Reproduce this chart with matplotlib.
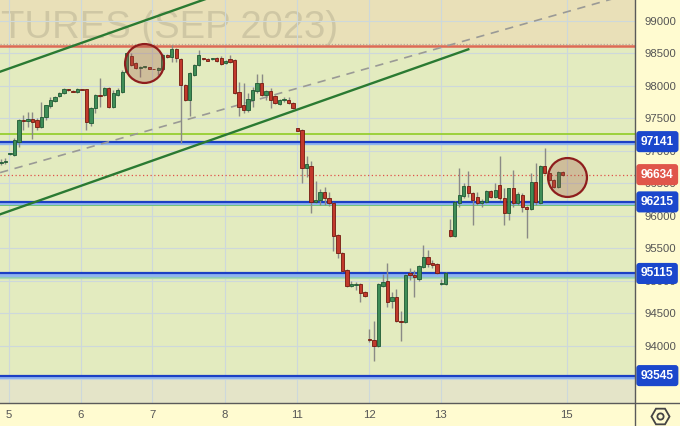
import matplotlib
matplotlib.use('Agg')
import matplotlib.pyplot as plt
from matplotlib.lines import Line2D
import numpy as np

# ---------------- data ----------------
opens = [96820, 96835, 96945, 96935, 97135, 97480, 97460, 97490, 97475, 97365,
         97520, 97690, 97765, 97840, 97890, 97945, 97925, 97905, 97950, 97950,
         97430, 97660, 97860, 97860, 97965, 97675, 97860, 97905, 98210, 98455,
         98350, 98280, 98285, 98290, 98265, 98240, 98260, 98475, 98440, 98565,
         98410, 98010, 97780, 98165, 98320, 98420, 98410, 98405, 98425, 98425,
         98350, 98410, 98395, 97905, 97705, 97625, 97780, 97920, 98040, 97860,
         97920, 97840, 97720, 97775, 97780, 97735, 97350, 97320, 96735, 96765,
         96215, 96245, 96365, 96275, 96200, 95705, 95430, 95170, 94920, 94940,
         94955, 94830, 94100, 94090, 94000, 94920, 95000, 94690, 94755, 94390,
         94370, 95120, 95090, 95030, 95215, 95370, 95275, 95260, 94955, 94955,
         95785, 95690, 96200, 96305, 96460, 96350, 96290, 96200, 96215, 96380,
         96290, 96475, 96275, 96045, 96430, 96200, 96320, 96135, 96105, 96520,
         96200, 96765, 96660, 96550, 96445, 96675]
highs = [96875, 96890, 96965, 97195, 97490, 97550, 97595, 97595, 97505, 97750,
         97705, 97825, 97840, 97905, 97965, 97950, 97935, 97965, 97950, 97950,
         97675, 97875, 98120, 97980, 97980, 97935, 97965, 98240, 98520, 98505,
         98365, 98305, 98300, 98295, 98265, 98290, 98490, 98490, 98625, 98580,
         98425, 98025, 98210, 98335, 98550, 98425, 98425, 98425, 98440, 98455,
         98395, 98475, 98410, 98060, 98040, 97890, 97980, 98180, 98180, 97935,
         97965, 97860, 97795, 97825, 97825, 97750, 97355, 97335, 96920, 96845,
         96535, 96415, 96445, 96365, 96215, 95720, 95445, 95185, 95000, 94985,
         94970, 94845, 94260, 94385, 94970, 95105, 95275, 94830, 94875, 94540,
         95105, 95200, 95170, 95245, 95550, 95475, 95320, 95275, 95030, 95135,
         95950, 96230, 96735, 96505, 96690, 96365, 96365, 96260, 96400, 96400,
         96505, 96920, 96430, 96430, 96705, 96365, 96350, 96150, 96660, 96815,
         96780, 97045, 96675, 96565, 96690, 96690]
lows = [96780, 96800, 96940, 96920, 97060, 97320, 97365, 97180, 97320, 97350,
        97475, 97660, 97750, 97825, 97875, 97920, 97905, 97890, 97935, 97320,
        97380, 97580, 97675, 97845, 97660, 97660, 97845, 97890, 98195, 98305,
        98260, 98135, 98280, 98255, 98250, 98165, 98240, 98425, 98365, 98365,
        97120, 97765, 97535, 98150, 98305, 98400, 98380, 98400, 98365, 98320,
        98335, 98350, 97875, 97535, 97580, 97595, 97675, 97890, 97840, 97780,
        97660, 97720, 97705, 97750, 97720, 97645, 97300, 96505, 96595, 96045,
        96200, 96165, 96165, 96150, 95460, 95350, 95135, 94905, 94905, 94860,
        94675, 94755, 94060, 93770, 93985, 94905, 94600, 94585, 94370, 94075,
        94355, 95015, 94755, 95000, 95200, 95215, 95200, 95105, 94940, 94940,
        95675, 95675, 96135, 96275, 96290, 95860, 96165, 96135, 96200, 96275,
        96275, 96245, 95860, 95935, 96135, 96165, 96060, 95660, 96090, 96165,
        96185, 96645, 96535, 96430, 96430, 96615]
closes = [96835, 96850, 96960, 97165, 97475, 97460, 97490, 97445, 97365, 97520,
          97705, 97780, 97825, 97890, 97950, 97930, 97910, 97950, 97935, 97445,
          97660, 97860, 97845, 97965, 97675, 97890, 97935, 98210, 98505, 98320,
          98275, 98295, 98295, 98260, 98250, 98275, 98475, 98440, 98565, 98425,
          98010, 97780, 98195, 98320, 98475, 98405, 98380, 98420, 98380, 98335,
          98380, 98365, 97890, 97675, 97625, 97795, 97935, 98040, 97860, 97920,
          97780, 97735, 97780, 97790, 97735, 97660, 97305, 96735, 96795, 96215,
          96245, 96365, 96275, 96200, 95690, 95430, 95155, 94920, 94955, 94955,
          94815, 94770, 94085, 94000, 94955, 94985, 94675, 94755, 94385, 94375,
          95090, 95090, 95060, 95230, 95370, 95260, 95245, 95120, 94970, 95120,
          95690, 96215, 96320, 96460, 96350, 96245, 96200, 96230, 96380, 96290,
          96400, 96275, 96045, 96430, 96200, 96335, 96135, 96105, 96520, 96215,
          96765, 96660, 96550, 96445, 96675, 96634]

day_ticks = [1.8, 17.8, 33.7, 49.8, 65.9, 81.9, 97.9, 125.9]
day_labels = ['5', '6', '7', '8', '11', '12', '13', '15']
price_ticks = [93500, 94000, 94500, 95000, 95500, 96000, 96500, 97000,
               97500, 98000, 98500, 99000]
price_tick_labels = ['', '94000', '94500', '95000', '95500', '96000', '96500',
                     '97000', '97500', '98000', '98500', '99000']

level_prices = [97141, 96215, 95115, 93545]
last_price = 96634
resistance_price = 98611
green_level_prices = [97254, 96163]
teal_level_prices = [95072]

upper_channel_x = [-0.2, 48.7]
upper_channel_y = [98216, 99410]
lower_channel_x = [-0.2, 104.0]
lower_channel_y = [96024, 98560]
mid_line_x = [-0.2, 142.2]
mid_line_y = [96665, 99455]
circle_x = [31.8, 125.9]
circle_y = [98350, 96597]
watermark = 'TURES (SEP 2023)'

# ---------------- figure ----------------
W, H = 680, 426
AX_RIGHT = 635
AX_BOTTOM = 403
fig = plt.figure(figsize=(W / 100, H / 100), dpi=100, facecolor='#fffbd0')
ax = fig.add_axes([0, (H - AX_BOTTOM) / H, AX_RIGHT / W, AX_BOTTOM / H])
ax.set_facecolor('#e3ebbf')
ax.set_xlim(-0.22, 141.1)
ax.set_ylim(93124, 99318)

FONT = ['Liberation Sans', 'DejaVu Sans']

# background bands
ax.axhspan(resistance_price + 15, 99500, color='#e9e0b8', zorder=0.1, lw=0)
ax.axhspan(92000, level_prices[-1] - 20, color='#e4e4c8', zorder=0.1, lw=0)

# grid
ax.set_xticks(day_ticks)
ax.set_xticklabels(day_labels)
ax.set_yticks(price_ticks)
ax.set_yticklabels(price_tick_labels)
ax.grid(True, color='#cdd8db', lw=0.8, zorder=0.2)
ax.set_axisbelow(True)
ax.yaxis.tick_right()
ax.tick_params(axis='both', length=0, colors='#555555', labelsize=8.2)
ax.tick_params(axis='y', pad=7)
ax.tick_params(axis='x', pad=5)
for lab in ax.get_xticklabels() + ax.get_yticklabels():
    lab.set_family(FONT)
for sp in ax.spines.values():
    sp.set_visible(False)

# watermark
ax.text(1 / AX_RIGHT, 1 - 10 / AX_BOTTOM, watermark, transform=ax.transAxes,
        ha='left', va='top', fontsize=27.5, color='#7d7a66', alpha=0.24,
        family=FONT, zorder=0.3)

# resistance line with dotted edge
ax.axhline(resistance_price + 35, color='#b9a99a', lw=0.9, ls=(0, (1, 1.5)), zorder=1)
ax.axhline(resistance_price, color='#de6a55', lw=1.8, zorder=1)

# level lines
for lv in green_level_prices:
    col = '#96cf31' if lv > 97000 else '#5fc45f'
    ax.axhline(lv, color=col, lw=1.3, zorder=1)
for lv in teal_level_prices:
    ax.axhline(lv - 25, color='#a9d9b3', lw=1.6, zorder=1)
    ax.axhline(lv, color='#35b08a', lw=1.0, zorder=1)
for lv in level_prices:
    ax.axhline(lv - 18, color='#8fb4ef', lw=2.4, zorder=1.1)
    ax.axhline(lv, color='#1c3fc4', lw=1.6, zorder=1.2)

# current price dotted
ax.axhline(last_price, color='#e0534a', lw=0.9, ls=(0, (1, 2)), zorder=1.3)

# channel lines
ax.plot(upper_channel_x, upper_channel_y, color='#2a7a32', lw=1.7, zorder=1.5)
ax.plot(lower_channel_x, lower_channel_y, color='#2a7a32', lw=1.7, zorder=1.5)
ax.plot(mid_line_x, mid_line_y, color='#9a9a96', lw=1.2, ls=(0, (5, 4)), zorder=1.4)

# candles
x = np.arange(len(opens))
o = np.array(opens, float)
c = np.array(closes, float)
hi = np.array(highs, float)
lo = np.array(lows, float)
up = c >= o
ax.vlines(x, lo, hi, color='#8a8a86', lw=1.0, zorder=2)
body_bottom = np.minimum(o, c)
body_h = np.maximum(np.abs(c - o), 14)
ax.bar(x[up], body_h[up], bottom=body_bottom[up], width=0.74,
       color='#3f8d57', edgecolor='#1f5a33', lw=0.6, zorder=3)
ax.bar(x[~up], body_h[~up], bottom=body_bottom[~up], width=0.74,
       color='#c2392c', edgecolor='#74190f', lw=0.6, zorder=3)

# circles
ax.plot(circle_x, circle_y, 'o', ms=28, mfc=(0.62, 0.33, 0.27, 0.30),
        mec='#8e1d1d', mew=1.6, zorder=6, clip_on=False)

# price labels on the right axis
for lv in level_prices:
    ax.annotate(f'{lv}', xy=(1, lv), xycoords=ax.get_yaxis_transform(),
                xytext=(4.2, 0), textcoords='offset points', ha='left', va='center',
                color='white', fontweight='bold', fontsize=8.6, family=FONT,
                bbox=dict(boxstyle='round,pad=0.38,rounding_size=0.25', fc='#1b47cc', ec='none'),
                annotation_clip=False, zorder=10)
ax.annotate(f'{last_price}', xy=(1, last_price), xycoords=ax.get_yaxis_transform(),
            xytext=(4.2, 0), textcoords='offset points', ha='left', va='center',
            color='white', fontweight='bold', fontsize=8.6, family=FONT,
            bbox=dict(boxstyle='round,pad=0.38,rounding_size=0.25', fc='#e0564a', ec='none'),
            annotation_clip=False, zorder=10)

# frame separators
fig.add_artist(Line2D([0, 1], [(H - AX_BOTTOM) / H] * 2, transform=fig.transFigure,
                      color='#5a5a5a', lw=1.0))
fig.add_artist(Line2D([AX_RIGHT / W] * 2, [0, 1], transform=fig.transFigure,
                      color='#5a5a5a', lw=1.0))

# settings icon
ov = fig.add_axes([0, 0, 1, 1], zorder=5)
ov.set_xlim(0, W)
ov.set_ylim(H, 0)
ov.axis('off')
ov.patch.set_alpha(0)
ov.plot([660], [416], marker='H', ms=13, mfc='none', mec='#444444', mew=1.3)
ov.plot([660], [416], marker='o', ms=4.5, mfc='none', mec='#444444', mew=1.3)

fig.savefig('out.png', dpi=100, facecolor=fig.get_facecolor())
